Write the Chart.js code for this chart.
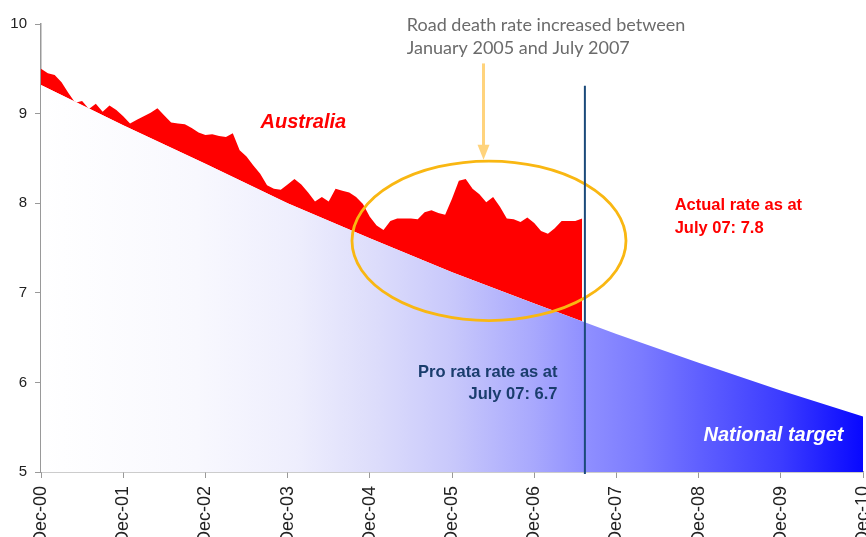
<!DOCTYPE html>
<html lang="en">
<head>
<meta charset="UTF-8">
<title>Road death rate vs national target</title>
<script src="https://cdn.jsdelivr.net/npm/chart.js"></script>
<style>
  html, body { margin: 0; padding: 0; background: #fff; overflow: hidden; }
  canvas { display: block; }
</style>
</head>
<body>
<canvas id="roadChart" width="866" height="537"></canvas>
<script>
// road deaths per 100,000 people, one value per month, Dec-00 .. Jul-07
const australiaRate = [
  9.50, 9.45, 9.43, 9.35, 9.23, 9.12, 9.14, 9.05, 9.11, 9.02, 9.09, 9.04,
  8.97, 8.89, 8.93, 8.97, 9.01, 9.06, 8.98, 8.90, 8.89, 8.88, 8.84, 8.79,
  8.76, 8.77, 8.75, 8.74, 8.78, 8.59, 8.52, 8.42, 8.33, 8.20, 8.16, 8.15,
  8.21, 8.27, 8.21, 8.12, 8.02, 8.07, 8.02, 8.16, 8.14, 8.12, 8.07, 7.99,
  7.85, 7.75, 7.70, 7.80, 7.83, 7.83, 7.83, 7.82, 7.90, 7.92, 7.89, 7.87,
  8.05, 8.25, 8.27, 8.16, 8.10, 8.01, 8.07, 7.96, 7.83, 7.82, 7.79, 7.84,
  7.78, 7.69, 7.66, 7.72, 7.80, 7.80, 7.80, 7.83
];
// national target, one value per December (Dec-00 .. Dec-10)
const targetRate = [9.32, 8.87, 8.44, 8.00, 7.61, 7.23, 6.88, 6.54, 6.22, 5.91, 5.62];
const yearLabels = ['Dec-00', 'Dec-01', 'Dec-02', 'Dec-03', 'Dec-04', 'Dec-05',
                    'Dec-06', 'Dec-07', 'Dec-08', 'Dec-09', 'Dec-10'];
const monthsPerYear = 12;
const cutoffMonth = 79.4; // July 2007

const ausPoints = australiaRate.map((v, i) => ({ x: i, y: v }));
const targetPoints = targetRate.map((v, i) => ({ x: i * monthsPerYear, y: v }));

function blueFade(context) {
  const { chart } = context;
  const area = chart.chartArea;
  if (!area) return 'rgba(0,0,255,0.3)';
  const g = chart.ctx.createLinearGradient(area.left, 0, area.right, 0);
  g.addColorStop(0.00, '#ffffff');
  g.addColorStop(0.19, '#f8f8fe');
  g.addColorStop(0.31, '#eeeefd');
  g.addColorStop(0.41, '#dcdcfb');
  g.addColorStop(0.50, '#c8c8fb');
  g.addColorStop(0.60, '#a8a8fd');
  g.addColorStop(0.66, '#9090ff');
  g.addColorStop(0.73, '#7b7bff');
  g.addColorStop(0.80, '#6060ff');
  g.addColorStop(0.90, '#3c3cff');
  g.addColorStop(1.00, '#0808ff');
  return g;
}

// callouts, placed in chart units
const notes = {
  id: 'notes',
  afterDatasetsDraw(chart) {
    const { ctx, scales: { x, y } } = chart;
    const px = m => x.getPixelForValue(m);
    const py = v => y.getPixelForValue(v);
    ctx.save();

    // ellipse round the 2005-2007 rise
    const cx = px(65.4), cy = py(7.58);
    ctx.strokeStyle = '#f9b712';
    ctx.lineWidth = 2.8;
    ctx.beginPath();
    ctx.ellipse(cx, cy, px(65.4 + 20) - cx, cy - py(7.58 + 0.89), 0, 0, Math.PI * 2);
    ctx.stroke();

    // arrow
    const ax = px(64.6), ay0 = py(9.56), ay1 = py(8.485);
    ctx.strokeStyle = '#ffd37c';
    ctx.fillStyle = '#ffd37c';
    ctx.lineWidth = 3;
    ctx.beginPath();
    ctx.moveTo(ax, ay0);
    ctx.lineTo(ax, ay1 - 12);
    ctx.stroke();
    ctx.beginPath();
    ctx.moveTo(ax - 6, ay1 - 15);
    ctx.lineTo(ax + 6, ay1 - 15);
    ctx.lineTo(ax, ay1);
    ctx.closePath();
    ctx.fill();

    // July 2007 cut-off
    ctx.strokeStyle = '#1b4a7a';
    ctx.lineWidth = 2;
    ctx.beginPath();
    ctx.moveTo(px(cutoffMonth), py(9.31));
    ctx.lineTo(px(cutoffMonth), py(5) + 2);
    ctx.stroke();

    ctx.textBaseline = 'middle';

    ctx.fillStyle = '#ff0000';
    ctx.font = 'italic bold 20px "Liberation Sans", Arial, sans-serif';
    ctx.textAlign = 'center';
    ctx.fillText('Australia', px(38.3), py(8.90));

    ctx.font = 'bold 16.5px "Liberation Sans", Arial, sans-serif';
    ctx.textAlign = 'left';
    ctx.fillText('Actual rate as at', px(92.5), py(7.97));
    ctx.fillText('July 07: 7.8', px(92.5), py(7.72));

    ctx.fillStyle = '#1a3d6d';
    ctx.textAlign = 'right';
    ctx.fillText('Pro rata rate as at', px(75.4), py(6.115));
    ctx.fillText('July 07: 6.7', px(75.4), py(5.86));

    ctx.fillStyle = '#ffffff';
    ctx.font = 'italic bold 20px "Liberation Sans", Arial, sans-serif';
    ctx.fillText('National target', px(117.15), py(5.41));

    ctx.fillStyle = '#6b6b6b';
    ctx.font = '18px Lato, "Open Sans", sans-serif';
    ctx.textAlign = 'left';
    ctx.fillText('Road death rate increased between', px(53.4), py(9.99));
    ctx.fillText('January 2005 and July 2007', px(53.4), py(9.73));

    ctx.restore();
  }
};

new Chart(document.getElementById('roadChart'), {
  type: 'line',
  data: {
    datasets: [
      {
        label: 'Australia',
        data: ausPoints,
        borderColor: 'rgba(0,0,0,0)',
        borderWidth: 1,
        pointRadius: 0,
        tension: 0,
        fill: { target: 1, above: '#ff0000', below: 'rgba(0,0,0,0)' }
      },
      {
        label: 'National target',
        data: targetPoints,
        borderColor: 'rgba(0,0,0,0)',
        borderWidth: 1,
        pointRadius: 0,
        tension: 0,
        backgroundColor: blueFade,
        fill: 'start'
      }
    ]
  },
  options: {
    responsive: false,
    animation: false,
    layout: { padding: { top: 24, right: 3, left: 0, bottom: 0 } },
    plugins: {
      legend: { display: false },
      tooltip: { enabled: false }
    },
    scales: {
      x: {
        type: 'linear',
        min: 0,
        max: 120,
        grid: { drawOnChartArea: false, tickLength: 6, color: '#999' },
        border: { color: '#999', width: 1.5 },
        ticks: {
          stepSize: monthsPerYear,
          autoSkip: false,
          minRotation: 90,
          maxRotation: 90,
          padding: 8,
          color: '#222',
          font: { family: '"Liberation Sans", Arial, sans-serif', size: 18 },
          callback: v => yearLabels[v / monthsPerYear]
        },
        afterFit: s => { s.height = 65; s.paddingLeft = 0; s.paddingRight = 0; }
      },
      y: {
        min: 5,
        max: 10,
        grid: { drawOnChartArea: false, tickLength: 6, color: '#999' },
        border: { color: '#999', width: 1.5 },
        ticks: {
          stepSize: 1,
          padding: 8,
          color: '#222',
          font: { family: '"Liberation Sans", Arial, sans-serif', size: 15 }
        },
        afterFit: s => { s.width = 41; }
      }
    }
  },
  plugins: [notes]
});
</script>
</body>
</html>
